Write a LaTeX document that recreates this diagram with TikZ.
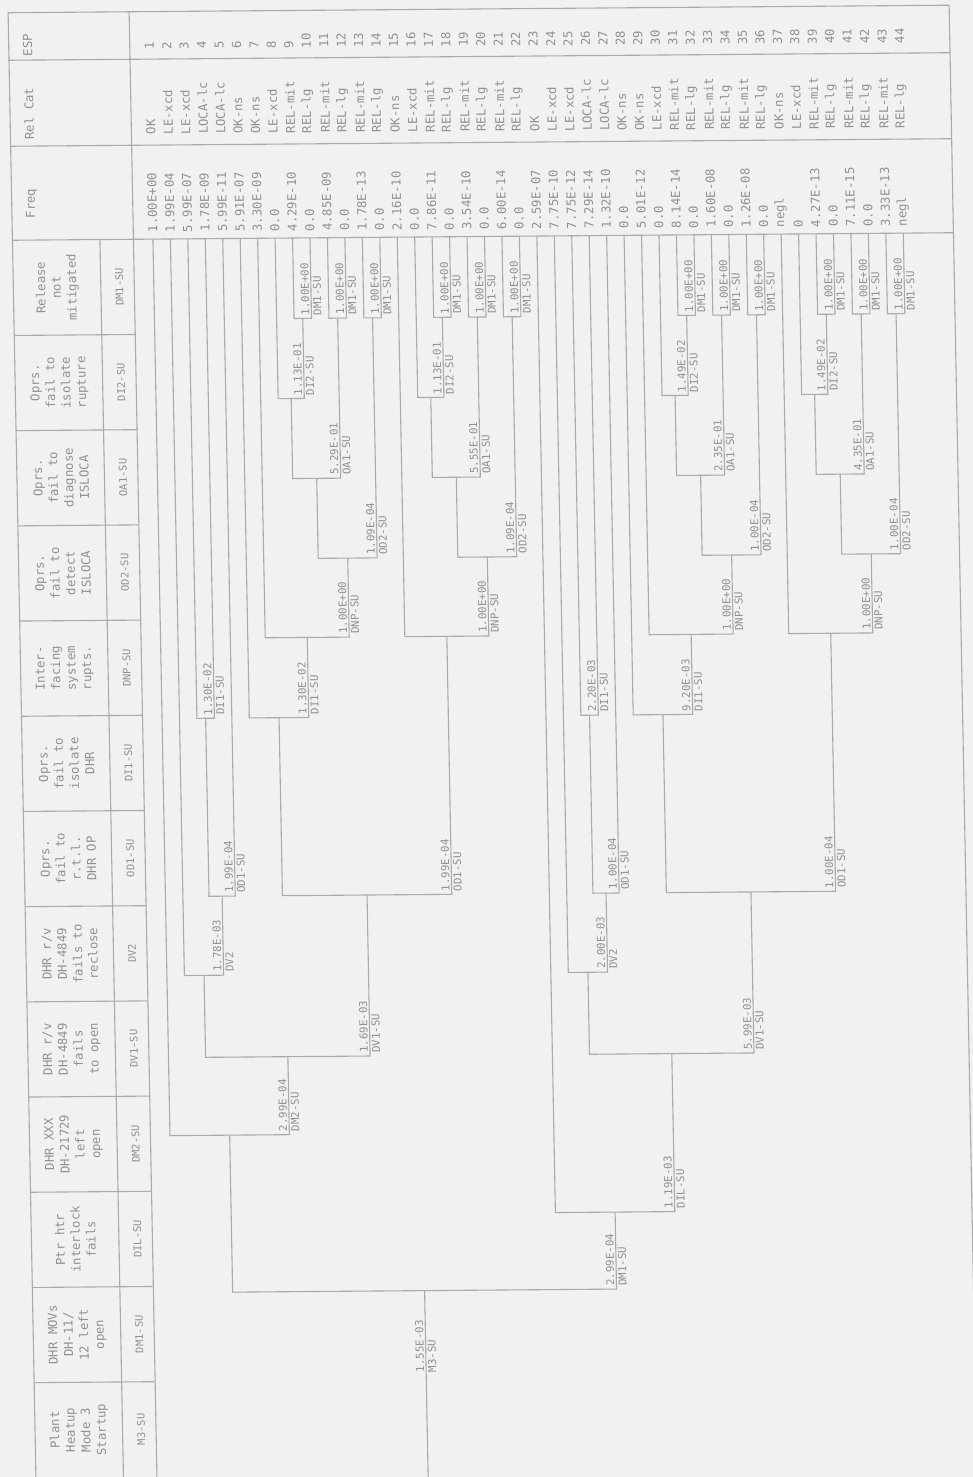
\documentclass[tikz,border=0pt]{standalone}
\usepackage{fontspec}
\setmonofont{DejaVu Sans Mono}
\usetikzlibrary{calc}
\definecolor{bgc}{RGB}{241,241,239}
\definecolor{lnc}{RGB}{170,170,170}
\definecolor{txc}{RGB}{145,145,145}
\tikzset{
  tree/.style={draw=lnc, line width=1.1pt},
  rule/.style={draw=lnc, line width=1.1pt},
  lab/.style={font=\ttfamily\fontsize{10.8}{11}\selectfont, text=txc, inner sep=0pt, rotate=90},
  prob/.style={lab, anchor=south west},
  code/.style={lab, anchor=north west},
  cell/.style={font=\ttfamily\fontsize{12.3}{13}\selectfont, text=txc, inner sep=0pt, rotate=90, anchor=west},
  head/.style={font=\ttfamily\fontsize{12.3}{15.5}\selectfont, text=txc, inner sep=0pt, rotate=90, align=center},
  hcode/.style={font=\ttfamily\fontsize{10.5}{12}\selectfont, text=txc, inner sep=0pt, rotate=90},
}
\newcommand\spl[3]{\draw[tree] (#2) |- (#1) -| (#3);}
\newcommand\flab[4]{%
  \node[prob] (#1p) at ($(#2 |- #1)+(-1.8,-3)$) {#3};
  \node[code] (#1c) at ($(#2 |- #1)+(1.8,-3)$) {#4};}
\begin{document}
\begin{tikzpicture}
\fill[bgc] (0,0) rectangle (973pt,-1477pt);
\useasboundingbox (0,0) rectangle (973pt,-1477pt);
\begin{scope}[x=1pt,y=-1pt,transform canvas={cm={1,0.008,-0.019,1,(-14.06pt,-3.92pt)}}]
% ---------- table frame ----------
\draw[rule] (22,1490) -- (22,9) -- (963,9) -- (963,1490);
\draw[rule] (22,56.5) -- (963,56.5);
\draw[rule] (22,142.5) -- (963,142.5);
\draw[rule] (22,236.5) -- (963,236.5);
\draw[rule] (143,9) -- (143,1490);
\draw[rule] (109.5,236.5) -- (109.5,1490);
\foreach \k in {1,...,12} {\draw[rule] (22,236.5+95.2*\k) -- (143,236.5+95.2*\k);}
% ---------- header texts ----------
\node[head, anchor=north] (hESP) at (36,41.5) {ESP};
\node[head, anchor=north] (hRC) at (36,110) {Rel Cat};
\node[head, anchor=north] (hFQ) at (36,200) {Freq};
\foreach \k/\t/\c in {0/{Release\\not\\mitigated}/DM1-SU,
 1/{Oprs.\\fail to\\isolate\\rupture}/DI2-SU,
 2/{Oprs.\\fail to\\diagnose\\ISLOCA}/OA1-SU,
 3/{Oprs.\\fail to\\detect\\ISLOCA}/OD2-SU,
 4/{Inter-\\facing\\system\\rupts.}/DNP-SU,
 5/{Oprs.\\fail to\\isolate\\DHR}/DI1-SU,
 6/{Oprs.\\fail to\\r.t.l.\\DHR OP}/OD1-SU,
 7/{DHR r/v\\DH-4849\\fails to\\reclose}/DV2,
 8/{DHR r/v\\DH-4849\\fails\\to open}/DV1-SU,
 9/{DHR XXX\\DH-21729\\left\\open}/DM2-SU,
 10/{Ptr htr\\interlock\\fails}/DIL-SU,
 11/{DHR MOVs\\DH-11/\\12 left\\open}/DM1-SU,
 12/{Plant\\Heatup\\Mode 3\\Startup}/M3-SU}
 {\node[head] (ht\k) at (66,236.5+95.2*\k+47.6) {\t};
  \node[hcode] (hc\k) at (128,236.5+95.2*\k+47.6) {\c};}
% ---------- leaves and end-state data ----------
\foreach \i/\rc/\fq in {1/OK/1.00E+00,2/LE-xcd/1.99E-04,3/LE-xcd/5.99E-07,4/LOCA-lc/1.78E-09,
 5/LOCA-lc/5.99E-11,6/OK-ns/5.91E-07,7/OK-ns/3.30E-09,8/LE-xcd/0.0,9/REL-mit/4.29E-10,
 10/REL-lg/0.0,11/REL-mit/4.85E-09,12/REL-lg/0.0,13/REL-mit/1.78E-13,14/REL-lg/0.0,
 15/OK-ns/2.16E-10,16/LE-xcd/0.0,17/REL-mit/7.86E-11,18/REL-lg/0.0,19/REL-mit/3.54E-10,
 20/REL-lg/0.0,21/REL-mit/6.00E-14,22/REL-lg/0.0,23/OK/2.59E-07,24/LE-xcd/7.75E-10,
 25/LE-xcd/7.75E-12,26/LOCA-lc/7.29E-14,27/LOCA-lc/1.32E-10,28/OK-ns/0.0,29/OK-ns/5.01E-12,
 30/LE-xcd/0.0,31/REL-mit/8.14E-14,32/REL-lg/0.0,33/REL-mit/1.60E-08,34/REL-lg/0.0,
 35/REL-mit/1.26E-08,36/REL-lg/0.0,37/OK-ns/negl,38/LE-xcd/0,39/REL-mit/4.27E-13,
 40/REL-lg/0.0,41/REL-mit/7.11E-15,42/REL-lg/0.0,43/REL-mit/3.33E-13,44/REL-lg/negl}
{\pgfmathsetmacro\uu{162.5+17.45*(\i-1)}
 \coordinate (L\i) at (\uu,236.5);
 \node[cell] (esp\i) at (\uu,47) {\i};
 \node[cell] (rc\i) at (\uu,132) {\rc};
 \node[cell] (fq\i) at (\uu,230) {\fq};}
% ---------- internal split points ----------
\coordinate (R) at (414.15,1290);
\coordinate (Rb) at (414.15,1490);
\coordinate (DMtwo) at (222.2,1133);
\coordinate (DVoneL) at (281.9,1055);
\coordinate (DVtwoL) at (199.6,973);
\coordinate (ODaL) at (219.2,894);
\coordinate (DIaL) at (206.1,716);
\coordinate (ODL) at (364.1,894);
\coordinate (DIL) at (279.5,716);
\coordinate (NPaL) at (309.2,636);
\coordinate (OTaL) at (351.2,557);
\coordinate (OAaL) at (321.7,477);
\coordinate (IRaL) at (297.7,397);
\coordinate (Mnine) at (310.8,317);
\coordinate (Meleven) at (345.7,317);
\coordinate (Mthirteen) at (380.6,317);
\coordinate (NPbL) at (448.8,636);
\coordinate (OTbL) at (490.8,557);
\coordinate (OAbL) at (461.3,477);
\coordinate (IRbL) at (437.3,397);
\coordinate (Mseventeen) at (450.4,317);
\coordinate (Mnineteen) at (485.3,317);
\coordinate (Mtwentyone) at (520.2,317);
\coordinate (PIL) at (606.1,1213);
\coordinate (DVoneR) at (665.8,1055);
\coordinate (DVtwoR) at (583.5,973);
\coordinate (ODaR) at (603.1,894);
\coordinate (DIaR) at (590.0,716);
\coordinate (ODR) at (748.0,894);
\coordinate (DIR) at (663.4,716);
\coordinate (NPaR) at (693.1,636);
\coordinate (OTaR) at (735.1,557);
\coordinate (OAaR) at (705.6,477);
\coordinate (IRaR) at (681.6,397);
\coordinate (Mthirtyone) at (694.7,317);
\coordinate (Mthirtythree) at (729.6,317);
\coordinate (Mthirtyfive) at (764.5,317);
\coordinate (NPbR) at (832.7,636);
\coordinate (OTbR) at (874.7,557);
\coordinate (OAbR) at (845.2,477);
\coordinate (IRbR) at (821.2,397);
\coordinate (Mthirtynine) at (834.3,317);
\coordinate (Mfortyone) at (869.2,317);
\coordinate (Mfortythree) at (904.1,317);
% ---------- tree ----------
\draw[tree] (Rb) -- (R);
\spl{R}{DMtwo}{PIL}
\spl{DMtwo}{L1}{DVoneL}
\spl{DVoneL}{DVtwoL}{ODL}
\spl{DVtwoL}{L2}{ODaL}
\spl{ODaL}{DIaL}{L5}
\spl{DIaL}{L3}{L4}
\spl{ODL}{DIL}{NPbL}
\spl{DIL}{L6}{NPaL}
\spl{NPaL}{L7}{OTaL}
\spl{OTaL}{OAaL}{Mthirteen}
\spl{OAaL}{IRaL}{Meleven}
\spl{IRaL}{L8}{Mnine}
\spl{Mnine}{L9}{L10}
\spl{Meleven}{L11}{L12}
\spl{Mthirteen}{L13}{L14}
\spl{NPbL}{L15}{OTbL}
\spl{OTbL}{OAbL}{Mtwentyone}
\spl{OAbL}{IRbL}{Mnineteen}
\spl{IRbL}{L16}{Mseventeen}
\spl{Mseventeen}{L17}{L18}
\spl{Mnineteen}{L19}{L20}
\spl{Mtwentyone}{L21}{L22}
\spl{PIL}{L23}{DVoneR}
\spl{DVoneR}{DVtwoR}{ODR}
\spl{DVtwoR}{L24}{ODaR}
\spl{ODaR}{DIaR}{L27}
\spl{DIaR}{L25}{L26}
\spl{ODR}{DIR}{NPbR}
\spl{DIR}{L28}{NPaR}
\spl{NPaR}{L29}{OTaR}
\spl{OTaR}{OAaR}{Mthirtyfive}
\spl{OAaR}{IRaR}{Mthirtythree}
\spl{IRaR}{L30}{Mthirtyone}
\spl{Mthirtyone}{L31}{L32}
\spl{Mthirtythree}{L33}{L34}
\spl{Mthirtyfive}{L35}{L36}
\spl{NPbR}{L37}{OTbR}
\spl{OTbR}{OAbR}{Mfortythree}
\spl{OAbR}{IRbR}{Mfortyone}
\spl{IRbR}{L38}{Mthirtynine}
\spl{Mthirtynine}{L39}{L40}
\spl{Mfortyone}{L41}{L42}
\spl{Mfortythree}{L43}{L44}
% ---------- branch labels ----------
\node[prob] (Rp) at ($(R)+(-1.8,82)$) {1.55E-03};
\node[code] (Rc) at ($(R)+(1.8,82)$) {M3-SU};
\flab{R}{PIL}{2.99E-04}{DM1-SU}
\flab{DMtwo}{DVoneL}{2.99E-04}{DM2-SU}
\flab{PIL}{DVoneR}{1.19E-03}{DIL-SU}
\flab{DVoneL}{ODL}{1.69E-03}{DV1-SU}
\flab{DVoneR}{ODR}{5.99E-03}{DV1-SU}
\flab{DVtwoL}{ODaL}{1.78E-03}{DV2}
\flab{DVtwoR}{ODaR}{2.00E-03}{DV2}
\flab{ODaL}{L5}{1.99E-04}{OD1-SU}
\flab{ODaR}{L27}{1.00E-04}{OD1-SU}
\flab{DIaL}{L4}{1.30E-02}{DI1-SU}
\flab{DIaR}{L26}{2.20E-03}{DI1-SU}
\flab{ODL}{NPbL}{1.99E-04}{OD1-SU}
\flab{ODR}{NPbR}{1.00E-04}{OD1-SU}
\flab{DIL}{NPaL}{1.30E-02}{DI1-SU}
\flab{DIR}{NPaR}{9.20E-03}{DI1-SU}
\flab{NPaL}{OTaL}{1.00E+00}{DNP-SU}
\flab{NPbL}{OTbL}{1.00E+00}{DNP-SU}
\flab{NPaR}{OTaR}{1.00E+00}{DNP-SU}
\flab{NPbR}{OTbR}{1.00E+00}{DNP-SU}
\flab{OTaL}{Mthirteen}{1.09E-04}{OD2-SU}
\flab{OTbL}{Mtwentyone}{1.09E-04}{OD2-SU}
\flab{OTaR}{Mthirtyfive}{1.00E-04}{OD2-SU}
\flab{OTbR}{Mfortythree}{1.00E-04}{OD2-SU}
\flab{OAaL}{Meleven}{5.29E-01}{OA1-SU}
\flab{OAbL}{Mnineteen}{5.55E-01}{OA1-SU}
\flab{OAaR}{Mthirtythree}{2.35E-01}{OA1-SU}
\flab{OAbR}{Mfortyone}{4.35E-01}{OA1-SU}
\flab{IRaL}{Mnine}{1.13E-01}{DI2-SU}
\flab{IRbL}{Mseventeen}{1.13E-01}{DI2-SU}
\flab{IRaR}{Mthirtyone}{1.49E-02}{DI2-SU}
\flab{IRbR}{Mthirtynine}{1.49E-02}{DI2-SU}
\foreach \m/\l in {Mnine/L10,Meleven/L12,Mthirteen/L14,Mseventeen/L18,Mnineteen/L20,
 Mtwentyone/L22,Mthirtyone/L32,Mthirtythree/L34,Mthirtyfive/L36,Mthirtynine/L40,
 Mfortyone/L42,Mfortythree/L44}
 {\flab{\m}{\l}{1.00E+00}{DM1-SU}}
\end{scope}
\end{tikzpicture}
\end{document}
